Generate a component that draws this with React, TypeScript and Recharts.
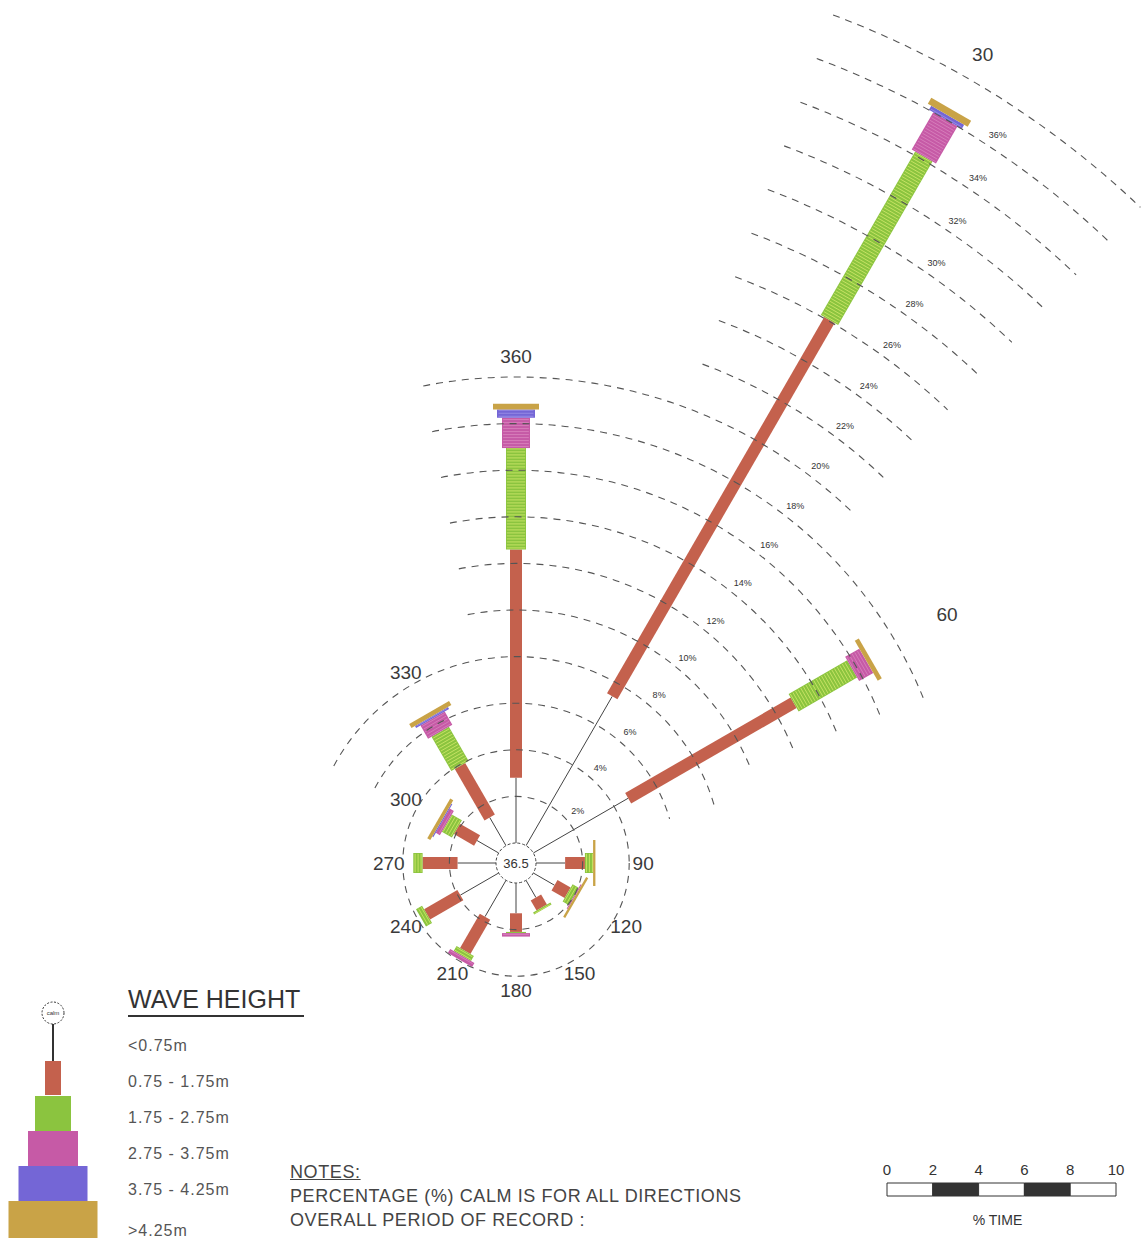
import React from 'react';
import {
  RadialBarChart,
  RadialBar,
  PolarAngleAxis,
  PolarRadiusAxis,
  BarChart,
  Bar,
  XAxis,
  YAxis,
} from 'recharts';

// wave direction sectors (deg, clockwise from north)
const directions = ['360', '30', '60', '90', '120', '150', '180', '210', '240', '270', '300', '330'];

// % of time in each wave height class, per direction
const below075 = [2.8, 7.4, 4.7, 1.25, 1.05, 0.85, 1.3, 1.8, 1.9, 1.65, 1.07, 1.4];
const h075to175 = [9.8, 18.65, 8.2, 0.85, 0.65, 0.5, 0.8, 1.7, 1.65, 1.5, 1.0, 2.55];
const h175to275 = [4.35, 8.1, 2.9, 0.35, 0.3, 0.1, 0.05, 0.25, 0.3, 0.4, 0.5, 1.7];
const h275to375 = [1.3, 1.85, 0.7, 0, 0.05, 0, 0.15, 0.2, 0, 0, 0.2, 0.65];
const h375to425 = [0.35, 0.2, 0, 0, 0, 0, 0, 0, 0, 0, 0.05, 0.1];
const above425 = [0.25, 0.3, 0.2, 0.1, 0.1, 0, 0, 0, 0, 0, 0.15, 0.2];

const calmPercent = '36.5';
const ringTicks = [0, 2, 4, 6, 8, 10, 12, 14, 16, 18, 20, 22, 24, 26, 28, 30, 32, 34, 36, 38];
const ringLabels = [2, 4, 6, 8, 10, 12, 14, 16, 18, 20, 22, 24, 26, 28, 30, 32, 34, 36];
const waveClasses = ['<0.75m', '0.75 - 1.75m', '1.75 - 2.75m', '2.75 - 3.75m', '3.75 - 4.25m', '>4.25m'];
const scaleTicks = [0, 2, 4, 6, 8, 10];
const scaleSegments = [2, 2, 2, 2, 2];

// layout
const CX = 516;
const CY = 863;
const INNER = 20;
const PX_PER_PCT = 23.3;
const R_MAX = 40;
const OUTER = INNER + PX_PER_PCT * R_MAX;
const HALF_BAND = 180 / directions.length;
const FONT = '"Liberation Sans", Arial, sans-serif';

const series = [
  { key: 'k0', values: below075, color: '#444444', width: 1 },
  { key: 'k1', values: h075to175, color: '#c4614d', width: 12 },
  { key: 'k2', values: h175to275, color: '#8bc43f', width: 20, stripe: '#d4ea6c' },
  { key: 'k3', values: h275to375, color: '#c65aa6', width: 28, stripe: '#d985bf' },
  { key: 'k4', values: h375to425, color: '#7466d6', width: 38, stripe: '#9d92e8' },
  { key: 'k5', values: above425, color: '#c9a347', width: 46 },
];

const data = directions.map((dir, i) => {
  const row: Record<string, string | number> = { dir };
  series.forEach((s) => {
    row[s.key] = s.values[i];
  });
  return row;
});

// where each direction label sits, in % units
const dirLabelPct: Record<string, number> = { '360': 20.9, '30': 39.2, '60': 20.5, '330': 8.6 };

// angular extent of each dashed ring (compass degrees)
function ringSpan(p: number): [number, number] | null {
  if (p <= 4) return null;
  if (p <= 8) return [-62, 74];
  if (p <= 18) return [-11, 68];
  if (p <= 20) return [-11, 43.5];
  return [20.5, 43.6];
}

const pt = (cx: number, cy: number, r: number, deg: number) => {
  const a = (deg * Math.PI) / 180;
  return [cx + r * Math.sin(a), cy - r * Math.cos(a)];
};

function RingTick(props: any) {
  const { x, y, payload } = props;
  const r = payload.coordinate;
  const v = payload.value;
  const cx = x;
  const cy = y + r;
  if (v === 0) {
    return (
      <g>
        <circle cx={cx} cy={cy} r={r} fill="#fff" stroke="#444" strokeWidth={1} strokeDasharray="3 2" />
        <text x={cx} y={cy} textAnchor="middle" dominantBaseline="central" fontSize={13} fontFamily={FONT} fill="#333">
          {calmPercent}
        </text>
      </g>
    );
  }
  const span = ringSpan(v);
  let ring;
  if (!span) {
    ring = <circle cx={cx} cy={cy} r={r} fill="none" stroke="#555" strokeWidth={1.1} strokeDasharray="7 6" />;
  } else {
    const [a1, a2] = span;
    const [x1, y1] = pt(cx, cy, r, a1);
    const [x2, y2] = pt(cx, cy, r, a2);
    const large = a2 - a1 > 180 ? 1 : 0;
    ring = (
      <path
        d={`M${x1},${y1} A${r},${r} 0 ${large} 1 ${x2},${y2}`}
        fill="none"
        stroke="#555"
        strokeWidth={1.1}
        strokeDasharray="7 6"
      />
    );
  }
  const la = v === 2 ? 50 : 41.5 - 0.25 * (v - 4);
  const [lx, ly] = pt(cx, cy, r + 14, la);
  return (
    <g>
      {ring}
      {ringLabels.includes(v) && (
        <text x={lx} y={ly} textAnchor="middle" dominantBaseline="central" fontSize={9} fontFamily={FONT} fill="#333">
          {v}%
        </text>
      )}
    </g>
  );
}

function DirTick(props: any) {
  const { payload } = props;
  const cx = typeof props.cx === 'number' ? props.cx : CX;
  const cy = typeof props.cy === 'number' ? props.cy : CY;
  // tick sits at the band start; the spoke is in the middle of the band
  const compass = 90 - payload.coordinate - HALF_BAND;
  const p = dirLabelPct[payload.value] ?? 4.6;
  const [lx, ly] = pt(cx, cy, INNER + PX_PER_PCT * p, compass);
  return (
    <text x={lx} y={ly} textAnchor="middle" dominantBaseline="central" fontSize={19} fontFamily={FONT} fill="#3a3a3a">
      {payload.value}
    </text>
  );
}

function makeSegment(width: number, color: string, stripe?: string) {
  return (props: any) => {
    const { cx, cy, innerRadius, outerRadius, startAngle, endAngle } = props;
    if (!(outerRadius - innerRadius > 0.3)) return <g />;
    const a = (((startAngle + endAngle) / 2) * Math.PI) / 180;
    const ux = Math.cos(a);
    const uy = -Math.sin(a);
    const nx = -uy;
    const ny = ux;
    if (width <= 1) {
      return (
        <line
          x1={cx + ux * innerRadius}
          y1={cy + uy * innerRadius}
          x2={cx + ux * outerRadius}
          y2={cy + uy * outerRadius}
          stroke={color}
          strokeWidth={1}
        />
      );
    }
    const h = width / 2;
    const xy = (r: number, s: number) => [cx + ux * r + nx * h * s, cy + uy * r + ny * h * s];
    const pts = [xy(innerRadius, 1), xy(outerRadius, 1), xy(outerRadius, -1), xy(innerRadius, -1)]
      .map((q) => q.join(','))
      .join(' ');
    const lines = [];
    if (stripe) {
      for (let r = innerRadius + 1.5; r < outerRadius - 0.5; r += 3) {
        const [a1, b1] = xy(r, 0.92);
        const [a2, b2] = xy(r, -0.92);
        lines.push(<line key={r} x1={a1} y1={b1} x2={a2} y2={b2} stroke={stripe} strokeWidth={0.8} />);
      }
    }
    return (
      <g>
        <polygon points={pts} fill={color} />
        {lines}
      </g>
    );
  };
}

function Legend() {
  const blocks = [
    { y: 1061, w: 16, h: 34 },
    { y: 1096, w: 36, h: 35 },
    { y: 1131, w: 50, h: 35 },
    { y: 1166, w: 69, h: 35 },
    { y: 1201, w: 89, h: 37 },
  ];
  const labelY = [1045, 1081, 1117, 1153, 1189, 1230];
  return (
    <svg width={320} height={260} style={{ position: 'absolute', left: 0, top: 980 }} viewBox="0 980 320 260">
      <circle cx={53} cy={1013} r={11} fill="#fff" stroke="#333" strokeWidth={1} strokeDasharray="2 1.5" />
      <text x={53} y={1013} textAnchor="middle" dominantBaseline="central" fontSize={6} fontFamily={FONT} fill="#333">
        calm
      </text>
      <line x1={53} y1={1024} x2={53} y2={1061} stroke="#333" strokeWidth={2} />
      {blocks.map((b, i) => (
        <rect key={i} x={53 - b.w / 2} y={b.y} width={b.w} height={b.h} fill={series[i + 1].color} />
      ))}
      <text x={128} y={1008} fontSize={25} fontFamily={FONT} fill="#333">
        WAVE HEIGHT
      </text>
      <line x1={128} y1={1016} x2={304} y2={1016} stroke="#333" strokeWidth={2} />
      {waveClasses.map((c, i) => (
        <text
          key={c}
          x={128}
          y={labelY[i]}
          dominantBaseline="central"
          fontSize={16}
          letterSpacing={1}
          fontFamily={FONT}
          fill="#555"
        >
          {c}
        </text>
      ))}
    </svg>
  );
}

function ScaleBar() {
  const row: Record<string, number | string> = { name: 'time' };
  scaleSegments.forEach((v, i) => (row['s' + i] = v));
  return (
    <div style={{ position: 'absolute', left: 870, top: 1150, width: 265, height: 90 }}>
      <BarChart width={265} height={55} data={[row]} layout="vertical" margin={{ top: 0, right: 19, bottom: 9, left: 17 }} barCategoryGap={0}>
        <XAxis
          type="number"
          orientation="top"
          domain={[0, 10]}
          ticks={scaleTicks}
          interval={0}
          axisLine={false}
          tickLine={false}
          height={33}
          tick={{ fontSize: 15, fill: '#333', fontFamily: FONT }}
        />
        <YAxis type="category" dataKey="name" hide />
        {scaleSegments.map((_, i) => (
          <Bar
            key={i}
            dataKey={'s' + i}
            stackId="t"
            fill={i % 2 === 0 ? '#ffffff' : '#333333'}
            stroke="#333"
            strokeWidth={1}
            isAnimationActive={false}
          />
        ))}
      </BarChart>
      <div style={{ position: 'absolute', left: 0, width: 255, top: 62, textAlign: 'center', fontSize: 14, fontFamily: FONT, color: '#333' }}>
        % TIME
      </div>
    </div>
  );
}

export default function App() {
  return (
    <div style={{ position: 'absolute', left: 0, top: 0, width: 1144, height: 1240, background: '#fff', overflow: 'hidden' }}>
      <RadialBarChart
        width={1144}
        height={1240}
        data={data}
        layout="centric"
        cx={CX}
        cy={CY}
        innerRadius={INNER}
        outerRadius={OUTER}
        startAngle={75}
        endAngle={-285}
        margin={{ top: 0, right: 0, bottom: 0, left: 0 }}
      >
        <PolarAngleAxis type="category" dataKey="dir" axisLine={false} tickLine={false} tick={<DirTick />} />
        <PolarRadiusAxis
          type="number"
          domain={[0, R_MAX]}
          ticks={ringTicks}
          angle={90}
          axisLine={false}
          tickLine={false}
          tick={<RingTick />}
        />
        {series.map((s) => (
          <RadialBar
            key={s.key}
            dataKey={s.key}
            stackId="wave"
            fill={s.color}
            shape={makeSegment(s.width, s.color, s.stripe)}
            isAnimationActive={false}
          />
        ))}
      </RadialBarChart>
      <Legend />
      <div style={{ position: 'absolute', left: 290, top: 1160, fontFamily: FONT, fontSize: 18, letterSpacing: 0.6, color: '#444', lineHeight: '24px' }}>
        <div style={{ textDecoration: 'underline' }}>NOTES:</div>
        <div>PERCENTAGE (%) CALM IS FOR ALL DIRECTIONS</div>
        <div>OVERALL PERIOD OF RECORD :</div>
      </div>
      <ScaleBar />
    </div>
  );
}
